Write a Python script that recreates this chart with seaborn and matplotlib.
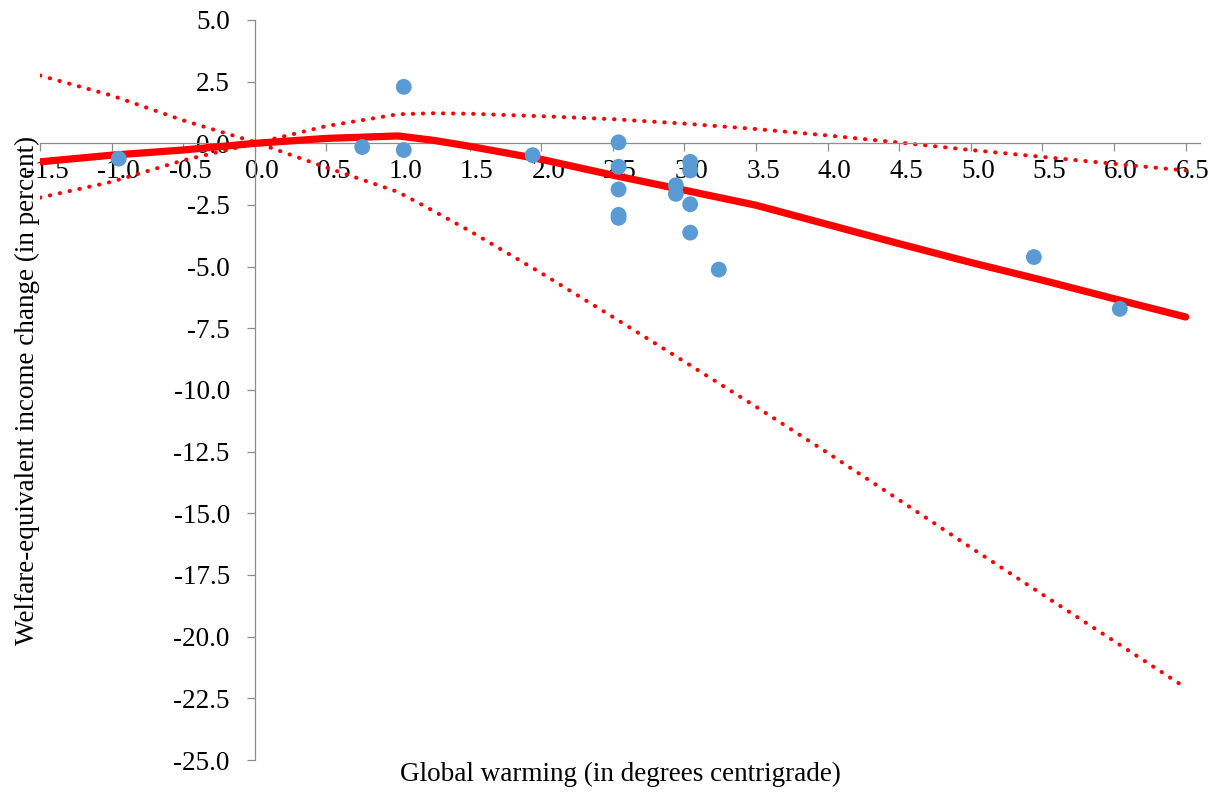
import matplotlib
matplotlib.use("Agg")
import matplotlib.pyplot as plt
import matplotlib.transforms as mtransforms
import seaborn as sns

# ---- data ----
warming = [-0.95, 0.75, 1.04, 1.04, 1.94, 2.54, 2.54, 2.54, 2.54, 2.54,
           2.94, 2.94, 3.04, 3.04, 3.04, 3.04, 3.24, 5.44, 6.04]
impact = [-0.62, -0.15, 2.29, -0.27, -0.48, 0.04, -0.95, -1.87, -2.90, -3.02,
          -1.70, -2.05, -0.75, -1.10, -2.47, -3.62, -5.12, -4.61, -6.71]

fit_x = [-1.5, -1.0, -0.5, 0.0, 0.5, 1.0, 1.25, 1.5, 2.0, 2.5, 3.0, 3.5,
         4.0, 4.5, 5.0, 5.5, 6.0, 6.5]
fit_central = [-0.75, -0.48, -0.27, 0.0, 0.20, 0.30, 0.12, -0.12, -0.65, -1.29,
               -1.90, -2.51, -3.29, -4.07, -4.83, -5.55, -6.30, -7.04]
fit_upper = [-2.20, -1.56, -0.69, 0.0, 0.70, 1.18, 1.22, 1.20, 1.10, 0.98,
             0.80, 0.58, 0.32, 0.03, -0.27, -0.55, -0.83, -1.10]
fit_lower = [2.75, 1.94, 0.93, 0.05, -0.98, -1.97, -2.75, -3.55, -5.26, -7.04,
             -8.85, -10.68, -12.55, -14.46, -16.39, -18.29, -20.18, -22.07]

x_ticks = [-1.5, -1.0, -0.5, 0.0, 0.5, 1.0, 1.5, 2.0, 2.5, 3.0, 3.5, 4.0,
           4.5, 5.0, 5.5, 6.0, 6.5]
y_ticks = [5.0, 2.5, 0.0, -2.5, -5.0, -7.5, -10.0, -12.5, -15.0, -17.5,
           -20.0, -22.5, -25.0]

x_label = "Global warming (in degrees centrigrade)"
y_label = "Welfare-equivalent income change (in percent)"

# ---- style ----
sns.set_theme(style="white")
plt.rcParams['font.family'] = ['Liberation Serif', 'DejaVu Serif']
plt.rcParams['axes.unicode_minus'] = False

FS = 19.5

fig = plt.figure(figsize=(12.19, 7.93), dpi=100)
ax = fig.add_axes([40 / 1219, 1 - 760 / 793, (1200 - 40) / 1219, (760 - 20) / 793])

red = '#FF0000'
blue = '#5B9BD5'

sns.lineplot(x=fit_x, y=fit_lower, ax=ax, color=red, lw=2.9, sort=False,
             estimator=None, linestyle=(0, (0.1, 2.4)), dash_capstyle='round',
             zorder=2)
sns.lineplot(x=fit_x, y=fit_upper, ax=ax, color=red, lw=2.9, sort=False,
             estimator=None, linestyle=(0, (0.1, 2.4)), dash_capstyle='round',
             zorder=2)
sns.lineplot(x=fit_x, y=fit_central, ax=ax, color=red, lw=5.2, sort=False,
             estimator=None, solid_capstyle='round', zorder=3)
sns.scatterplot(x=warming, y=impact, ax=ax, color=blue, s=130, edgecolor='none',
                linewidth=0, zorder=4)

ax.set_xlim(-1.5, 6.6)
ax.set_ylim(-25, 5)

spine_col = '#8C8C8C'
ax.spines['left'].set_position(('data', 0))
ax.spines['bottom'].set_position(('data', 0))
ax.spines['right'].set_visible(False)
ax.spines['top'].set_visible(False)
for s in ('left', 'bottom'):
    ax.spines[s].set_color(spine_col)
    ax.spines[s].set_linewidth(0.9)

ax.set_xticks(x_ticks)
ax.set_xticklabels([f"{v:.1f}" for v in x_ticks])
ax.set_yticks(y_ticks)
ax.set_yticklabels([f"{v:.1f}" for v in y_ticks])
ax.tick_params(axis='both', direction='out', length=6, width=0.9,
               color=spine_col, labelsize=FS, labelcolor='black')
ax.tick_params(axis='x', pad=5.5, bottom=True)
ax.tick_params(axis='y', pad=12, left=True)

offset = mtransforms.ScaledTranslation(7 / 100, 0, fig.dpi_scale_trans)
for lbl in ax.get_xticklabels():
    lbl.set_transform(lbl.get_transform() + offset)

ax.set_xlabel('')
ax.set_ylabel('')
ax.grid(False)

fig.text(620 / 1219, 1 - 774 / 793, x_label, ha='center', va='center',
         fontsize=FS, color='black')
fig.text(27 / 1219, 1 - 390 / 793, y_label, ha='center', va='center',
         rotation=90, fontsize=FS, color='black')

fig.savefig('out.png', dpi=100, facecolor='white')
